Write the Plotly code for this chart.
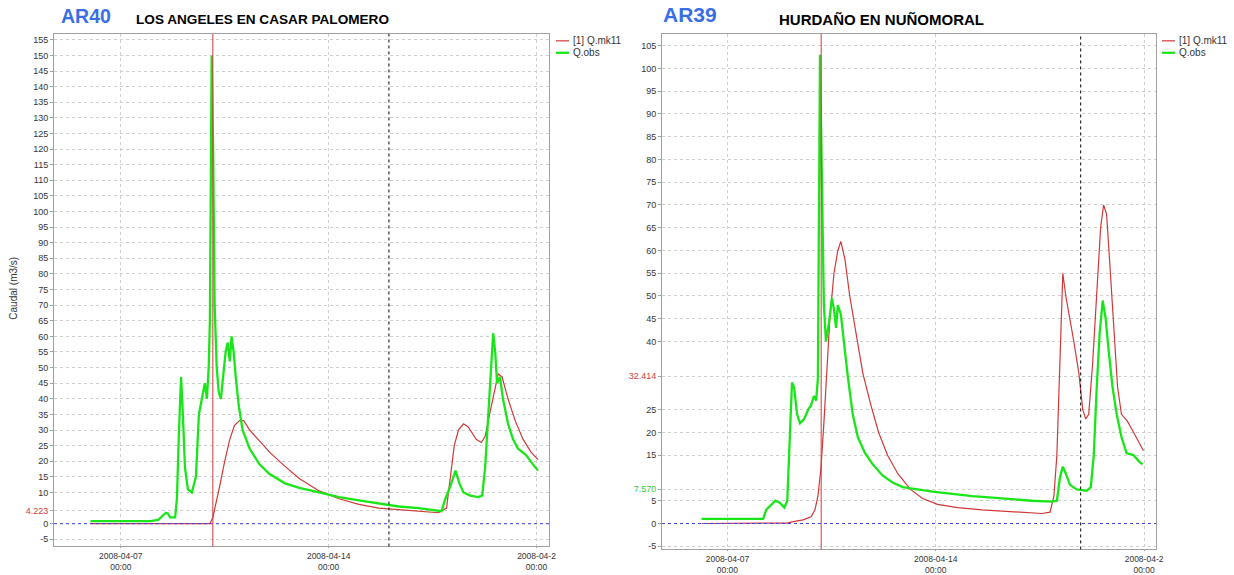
import pandas as pd
import plotly.graph_objects as go

BASE = pd.Timestamp("2008-04-07 00:00")

# ---------------- data (days relative to 2008-04-07 00:00, values in m3/s) -------------
left_obs_days = [-1.02, 0.99, 1.26, 1.42, 1.52, 1.59, 1.66, 1.83, 1.89, 1.96, 2.03, 2.09, 2.16, 2.26,
                 2.39, 2.53, 2.63, 2.73, 2.83, 2.90, 2.96, 3.00, 3.03, 3.06, 3.11, 3.16, 3.23, 3.30,
                 3.37, 3.43, 3.53, 3.60, 3.67, 3.73, 3.80, 3.87, 3.97, 4.10, 4.34, 4.67, 5.00, 5.51,
                 6.01, 6.68, 7.35, 8.02, 8.69, 9.36, 10.03, 10.70, 10.80, 10.93, 11.10, 11.27, 11.40,
                 11.54, 11.77, 12.04, 12.17, 12.27, 12.37, 12.47, 12.54, 12.61, 12.67, 12.77, 12.87,
                 13.04, 13.21, 13.38, 13.65, 13.88, 14.05]
left_obs_vals = [0.8, 0.8, 1.2, 2.5, 3.5, 3.2, 2.0, 2.0, 8, 30, 47, 35, 18, 11,
                 10, 15, 35, 40, 45, 40, 50, 65, 110, 150, 120, 70, 50, 42,
                 40, 45, 55, 58, 52, 60, 55, 47, 38, 30, 24, 19, 16, 13,
                 11.5, 10, 8.5, 7.5, 6.5, 5.5, 5, 4.0, 4.0, 8, 12, 17, 13,
                 10, 9, 8.5, 9, 18, 35, 50, 61, 55, 45, 47, 40,
                 32, 27, 24, 22, 19, 17]

left_sim_days = [-1.02, 3.00, 3.10, 3.20, 3.33, 3.50, 3.67, 3.83, 4.00, 4.14, 4.34, 4.67, 5.00, 5.51,
                 6.01, 6.68, 7.35, 8.02, 8.69, 9.36, 10.03, 10.70, 10.97, 11.10, 11.23, 11.37, 11.54,
                 11.70, 11.97, 12.14, 12.27, 12.44, 12.61, 12.71, 12.84, 13.04, 13.28, 13.55, 13.81, 14.05]
left_sim_vals = [0, 0, 2, 6, 12, 20, 27, 31.5, 33, 33, 30, 26.5, 23, 18.5,
                 14.5, 10.5, 8, 6.2, 5, 4.5, 4, 3.5, 5, 15, 25, 30, 32,
                 31, 27, 26, 28, 36, 44, 48, 47, 40, 33, 27, 23, 20.5]

right_obs_days = [-0.87, 1.20, 1.30, 1.44, 1.61, 1.77, 1.91, 2.01, 2.11, 2.17, 2.24, 2.34, 2.44, 2.58,
                  2.71, 2.81, 2.91, 2.98, 3.04, 3.08, 3.11, 3.14, 3.18, 3.24, 3.31, 3.41, 3.51, 3.58,
                  3.65, 3.71, 3.81, 3.91, 4.05, 4.21, 4.38, 4.62, 4.88, 5.22, 5.55, 5.89, 6.39, 6.89,
                  7.56, 8.23, 8.90, 9.57, 10.23, 10.90, 11.07, 11.17, 11.27, 11.37, 11.51, 11.74, 12.07,
                  12.21, 12.31, 12.41, 12.51, 12.61, 12.71, 12.81, 12.94, 13.08, 13.24, 13.41, 13.65,
                  13.85, 13.95]
right_obs_vals = [1, 1, 3, 4, 5, 4.5, 3.5, 5, 20, 31, 30, 24, 22, 23,
                  25, 26, 28, 27, 32, 65, 103, 90, 70, 48, 40, 44, 49.5, 47,
                  43, 48, 46, 40, 32, 24, 19, 15.5, 13, 10.5, 9, 8, 7.5, 7,
                  6.5, 6, 5.7, 5.3, 5, 4.8, 5, 10, 12.5, 11, 8.5, 7.5, 7.2,
                  8, 15, 30, 42, 49, 45, 38, 30, 24, 19, 15.5, 15,
                  13.5, 13]

right_sim_days = [-0.87, 2.00, 2.21, 2.54, 2.81, 2.94, 3.04, 3.14, 3.24, 3.34, 3.44, 3.58, 3.71, 3.81,
                  3.95, 4.11, 4.31, 4.55, 4.82, 5.08, 5.38, 5.72, 6.15, 6.56, 7.06, 7.73, 8.56, 9.57,
                  10.57, 10.84, 10.97, 11.07, 11.17, 11.27, 11.37, 11.51, 11.64, 11.81, 11.94, 12.04,
                  12.14, 12.27, 12.41, 12.54, 12.64, 12.74, 12.84, 12.98, 13.11, 13.24, 13.44, 13.65,
                  13.85, 13.98]
right_sim_vals = [0, 0.1, 0.4, 0.8, 1.5, 3, 6, 12, 22, 35, 45, 55, 60, 62,
                  58, 50, 42, 33, 26, 20, 15, 11, 7.5, 5.5, 4.2, 3.5, 3, 2.6,
                  2.2, 2.5, 6, 15, 35, 55, 50, 45, 40, 33, 25, 23,
                  24, 35, 50, 65, 70, 68, 58, 42, 30, 24, 22.5, 20,
                  17.5, 16]

# marker lines (days) and special tick values
left_red_marker = 3.10
left_black_marker = 9.03
right_red_marker = 3.15
right_black_marker = 11.87
left_sim_ref = 4.223
right_sim_ref = 32.414
right_obs_ref = 7.570

series_names = ["[1] Q.mk11", "Q.obs"]
x_tick_days = [0, 7, 14]
x_tick_text = ["2008-04-07<br>00:00", "2008-04-14<br>00:00", "2008-04-2<br>00:00"]
left_xrange_days = [-2.25, 14.42]
right_xrange_days = [-2.2, 14.4]
left_yrange = [-7.3, 156.9]
right_yrange = [-5.7, 107.6]

RED = "#d03838"
GREEN = "#19e619"
RED_TXT = "#d04040"
GREEN_TXT = "#33cc33"
FONT = "Liberation Sans, Arial"


def t(days):
    return [BASE + pd.to_timedelta(d, unit="D") for d in days]


W, H = 1234, 575


def fx(px):
    return (px * 1.0065 + 1.0) / W


def fy(py):
    return 1 - (py * 1.022 - 1.0) / H


fig = go.Figure()
fig.add_trace(go.Scatter(x=t(left_sim_days), y=left_sim_vals, mode="lines", name=series_names[0],
                         line=dict(color=RED, width=1.2), xaxis="x", yaxis="y", showlegend=False))
fig.add_trace(go.Scatter(x=t(left_obs_days), y=left_obs_vals, mode="lines", name=series_names[1],
                         line=dict(color=GREEN, width=2.3), xaxis="x", yaxis="y", showlegend=False))
fig.add_trace(go.Scatter(x=t(right_sim_days), y=right_sim_vals, mode="lines", name=series_names[0],
                         line=dict(color=RED, width=1.2), xaxis="x2", yaxis="y2", showlegend=False))
fig.add_trace(go.Scatter(x=t(right_obs_days), y=right_obs_vals, mode="lines", name=series_names[1],
                         line=dict(color=GREEN, width=2.3), xaxis="x2", yaxis="y2", showlegend=False))

# y ticks
left_ticks = [-5, 0, left_sim_ref] + list(range(10, 160, 5))
left_text = ["-5", "0", f"<span style='color:{RED_TXT}'>4.223</span>"] + [str(v) for v in range(10, 160, 5)]
right_ticks = [-5, 0, 5, right_obs_ref, 15, 20, 25, right_sim_ref] + list(range(40, 110, 5))
right_text = ["-5", "0", "5", f"<span style='color:{GREEN_TXT}'>7.570</span>", "15", "20", "25",
              f"<span style='color:{RED_TXT}'>32.414</span>"] + [str(v) for v in range(40, 110, 5)]

axis_common = dict(showline=True, linecolor="#a0a0a0", linewidth=1, mirror=True,
                   showgrid=True, gridcolor="#cfcfcf", griddash="dot", gridwidth=1,
                   ticks="outside", tickcolor="#a0a0a0", zeroline=False)
yfont = dict(family=FONT, size=9, color="#333333")
xfont = dict(family=FONT, size=8.5, color="#333333")

fig.update_layout(
    width=W, height=H, margin=dict(l=0, r=0, t=0, b=0),
    paper_bgcolor="white", plot_bgcolor="white",
    font=dict(family=FONT, size=9, color="#333333"),
    xaxis=dict(domain=[fx(53), fx(548)], anchor="y", range=t(left_xrange_days), type="date",
               tickvals=t(x_tick_days), ticktext=x_tick_text, ticklen=1, tickfont=xfont, **axis_common),
    yaxis=dict(domain=[fy(550), fy(35)], anchor="x", range=left_yrange,
               tickvals=left_ticks, ticktext=left_text, ticklen=3, tickfont=yfont, **axis_common),
    xaxis2=dict(domain=[fx(661), fx(1155)], anchor="y2", range=t(right_xrange_days), type="date",
                tickvals=t(x_tick_days), ticktext=x_tick_text, ticklen=1, tickfont=xfont, **axis_common),
    yaxis2=dict(domain=[fy(553), fy(35)], anchor="x2", range=right_yrange,
                tickvals=right_ticks, ticktext=right_text, ticklen=3, tickfont=yfont, **axis_common),
    showlegend=False,
)

# reference / marker lines
for xa, ya, red_d, blk_d in [("x", "y", left_red_marker, left_black_marker),
                             ("x2", "y2", right_red_marker, right_black_marker)]:
    fig.add_shape(type="line", xref=f"{xa} domain", yref=ya, x0=0, x1=1, y0=0, y1=0,
                  line=dict(color="#4040e0", width=1, dash="dot"))
    rt = t([red_d])[0]
    bt = t([blk_d])[0]
    fig.add_shape(type="line", xref=xa, yref=f"{ya} domain", x0=rt, x1=rt, y0=0, y1=1,
                  line=dict(color=RED, width=1))
    fig.add_shape(type="line", xref=xa, yref=f"{ya} domain", x0=bt, x1=bt, y0=0, y1=1,
                  line=dict(color="#000000", width=1, dash="dot"))

# legends (drawn manually: short line samples)
for lx in (555, 1161):
    for i, (name, col, lw) in enumerate(zip(series_names, [RED, GREEN], [1.2, 2.3])):
        yy = 42 + 12 * i
        fig.add_shape(type="line", xref="paper", yref="paper", x0=fx(lx), x1=fx(lx + 13),
                      y0=fy(yy), y1=fy(yy), line=dict(color=col, width=lw))
        fig.add_annotation(xref="paper", yref="paper", x=fx(lx + 15), y=fy(yy), text=name,
                           showarrow=False, xanchor="left", yanchor="middle",
                           font=dict(family=FONT, size=10, color="#333333"))

# titles
ann = [
    dict(text="<b>AR40</b>", x=fx(85), y=fy(17), font=dict(size=19.5, color="#3a6ee6", family=FONT)),
    dict(text="<b>LOS ANGELES EN CASAR PALOMERO</b>", x=fx(262), y=fy(21), font=dict(size=13.6, color="#000000", family=FONT)),
    dict(text="<b>AR39</b>", x=fx(689), y=fy(16), font=dict(size=21, color="#3a6ee6", family=FONT)),
    dict(text="<b>HURDAÑO EN NUÑOMORAL</b>", x=fx(881), y=fy(21), font=dict(size=15, color="#000000", family=FONT)),
    dict(text="Caudal (m3/s)", x=fx(13), y=fy(290), textangle=-90, font=dict(size=10, color="#333333", family=FONT)),
]
for a in ann:
    fig.add_annotation(xref="paper", yref="paper", showarrow=False, xanchor="center", yanchor="middle", **a)

fig.write_html(
    "out.html",
    config={"displayModeBar": False},
    post_script="document.body.style.margin='0';document.body.style.overflow='hidden';"
                "document.documentElement.style.overflow='hidden';",
)
